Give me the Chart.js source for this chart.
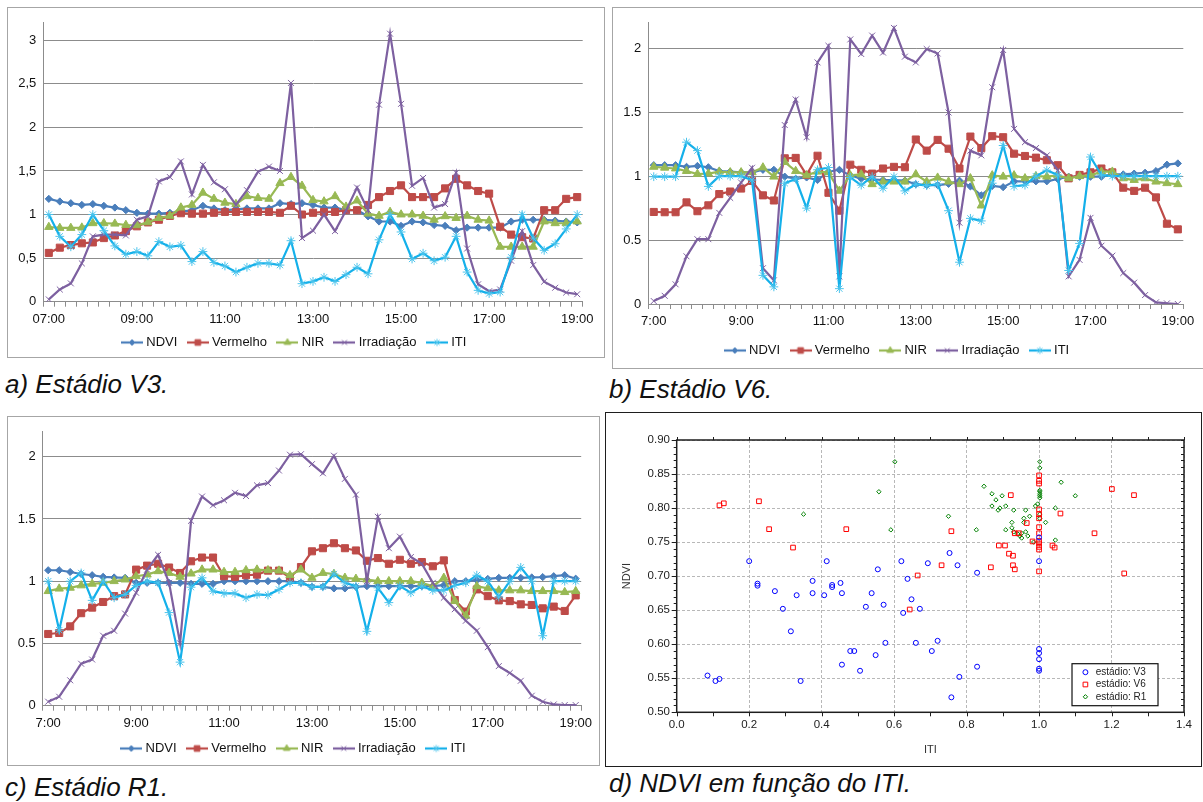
<!DOCTYPE html>
<html lang="pt">
<head>
<meta charset="utf-8">
<title>NDVI, ITI e irradiação ao longo do dia</title>
<script src="https://cdn.jsdelivr.net/npm/chart.js@4.4.1/dist/chart.umd.min.js"></script>
<style>
  html, body { margin:0; padding:0; background:#fff; width:1203px; height:802px; overflow:hidden; }
  .frame { position:absolute; box-sizing:border-box; border:1px solid #a6a6a6; }
  .frame.dark { border:1.5px solid #1e1e1e; }
  canvas { position:absolute; }
  .caption { position:absolute; font: italic 26px 'Liberation Sans', Arial, sans-serif; line-height:26px; color:#111; white-space:nowrap; }
</style>
</head>
<body>
<div class="frame" style="left:7px;top:7px;width:598px;height:351px"></div>
<div class="frame" style="left:612px;top:7px;width:600px;height:362px"></div>
<div class="frame" style="left:7px;top:416px;width:593px;height:350px"></div>
<div class="frame dark" style="left:605px;top:412px;width:597px;height:355px"></div>

<canvas id="chartV3" width="597" height="351" style="left:8px;top:8px"></canvas>
<canvas id="chartV6" width="594" height="359" style="left:613px;top:8px"></canvas>
<canvas id="chartR1" width="596" height="348" style="left:8px;top:417px"></canvas>
<canvas id="chartScatter" width="590" height="348" style="left:608px;top:415px"></canvas>

<div class="caption" style="left:5px;top:371px">a) Estádio V3.</div>
<div class="caption" style="left:609px;top:376px">b) Estádio V6.</div>
<div class="caption" style="left:5px;top:774px">c) Estádio R1.</div>
<div class="caption" style="left:609px;top:770px">d) NDVI em função do ITI.</div>

<script>
// ---- categories and tick labels ----
const times = ['07:00','07:15','07:30','07:45','08:00','08:15','08:30','08:45','09:00','09:15','09:30','09:45',
  '10:00','10:15','10:30','10:45','11:00','11:15','11:30','11:45','12:00','12:15','12:30','12:45',
  '13:00','13:15','13:30','13:45','14:00','14:15','14:30','14:45','15:00','15:15','15:30','15:45',
  '16:00','16:15','16:30','16:45','17:00','17:15','17:30','17:45','18:00','18:15','18:30','18:45','19:00'];
const tickLabelsV3 = ['07:00','09:00','11:00','13:00','15:00','17:00','19:00'];
const tickLabelsV6R1 = ['7:00','9:00','11:00','13:00','15:00','17:00','19:00'];
const seriesNames = ['NDVI','Vermelho','NIR','Irradiação','ITI'];

// ---- estádio V3 ----
const ndviV3 = [1.18,1.15,1.13,1.11,1.12,1.10,1.08,1.05,1.02,1.01,1.01,1.02,1.03,1.05,1.10,1.07,1.05,1.06,1.07,1.07,1.07,1.13,1.12,
  1.13,1.11,1.08,1.08,1.05,1.05,0.98,0.92,0.92,0.87,0.92,0.91,0.88,0.87,0.82,0.85,0.85,0.85,0.85,0.92,0.94,0.94,0.94,0.93,0.92,0.91];
const vermV3 = [0.56,0.62,0.65,0.67,0.68,0.73,0.76,0.81,0.865,0.91,0.94,0.985,1.015,1.01,1.01,1.02,1.03,1.03,1.03,1.03,1.03,1.02,1.10,
  1.00,1.02,1.03,1.03,1.05,1.05,1.11,1.20,1.27,1.335,1.20,1.20,1.20,1.30,1.41,1.335,1.27,1.24,0.86,0.77,0.74,0.725,1.05,1.05,1.18,1.20];
const nirV3 = [0.857,0.846,0.846,0.85,0.90,0.90,0.895,0.88,0.876,0.91,0.96,0.985,1.08,1.11,1.25,1.18,1.135,1.12,1.21,1.19,1.18,1.36,1.43,
  1.33,1.165,1.15,1.21,1.09,1.16,1.01,0.985,1.03,1.0,1.0,0.985,0.94,0.98,0.96,0.985,0.94,0.93,0.63,0.63,0.63,0.63,0.92,0.90,0.90,0.92];
const irrV3 = [0.026,0.14,0.21,0.44,0.75,0.77,0.77,0.76,0.94,0.98,1.38,1.43,1.61,1.23,1.57,1.37,1.29,1.11,1.28,1.49,1.55,1.50,2.51,
  0.73,0.815,1.0,0.81,1.045,1.31,1.05,2.26,3.075,2.27,1.33,1.42,1.08,1.12,1.48,0.61,0.20,0.12,0.14,0.47,0.81,0.42,0.23,0.16,0.105,0.086];
const itiV3 = [1.0,0.75,0.63,0.77,1.0,0.815,0.64,0.545,0.575,0.526,0.69,0.63,0.647,0.46,0.575,0.45,0.41,0.34,0.395,0.44,0.44,0.42,0.70,
  0.207,0.233,0.28,0.233,0.31,0.395,0.32,0.71,1.0,0.80,0.49,0.556,0.47,0.51,0.75,0.34,0.13,0.094,0.11,0.51,1.0,0.73,0.59,0.665,0.835,1.0];

// ---- estádio V6 ----
const ndviV6 = [1.086,1.086,1.086,1.073,1.08,1.07,1.04,1.035,1.03,1.03,1.05,1.05,0.996,0.98,0.99,0.97,1.035,1.05,1.006,0.98,0.975,0.97,0.97,0.965,
  0.937,0.93,0.93,0.94,0.965,0.92,0.85,0.924,0.914,0.96,0.96,0.96,0.96,0.978,0.996,0.996,0.996,0.996,1.014,1.014,1.02,1.027,1.04,1.09,1.10];
const vermV6 = [0.72,0.718,0.718,0.795,0.726,0.772,0.86,0.88,0.903,0.963,0.85,0.81,1.14,1.143,1.01,1.16,0.87,0.73,1.09,1.05,1.02,1.06,1.073,1.07,
  1.287,1.20,1.284,1.215,1.06,1.31,1.22,1.313,1.305,1.176,1.158,1.145,1.125,1.086,0.983,1.01,1.03,1.06,1.03,0.91,0.885,0.91,0.834,0.628,0.584];
const nirV6 = [1.073,1.066,1.06,1.04,1.017,1.02,1.035,1.03,1.03,1.03,1.068,0.996,1.11,1.04,1.006,1.035,1.03,0.885,1.006,1.014,0.937,0.957,0.957,0.957,
  1.014,0.957,0.988,0.957,0.937,0.983,0.77,1.006,0.996,1.006,0.983,1.0,0.996,1.006,0.983,1.0,1.006,1.035,1.035,0.983,0.97,0.983,0.957,0.945,0.937];
const irrV6 = [0.023,0.064,0.154,0.373,0.507,0.507,0.713,0.83,0.95,1.066,0.28,0.185,1.40,1.60,1.305,1.89,2.02,0.216,2.07,1.956,2.10,1.967,2.16,1.935,
  1.89,1.995,1.96,1.498,0.636,1.20,1.163,1.696,1.987,1.37,1.266,1.22,1.163,1.047,0.216,0.345,0.674,0.456,0.378,0.242,0.167,0.07,0.013,0.005,0.0];
const itiV6 = [0.996,0.996,0.996,1.266,1.20,0.92,1.0,1.0,1.0,0.97,0.224,0.134,0.945,0.978,0.75,1.05,1.068,0.12,0.99,0.93,0.996,0.906,0.996,0.885,
  0.937,0.926,0.937,0.73,0.327,0.67,0.65,0.945,1.24,0.92,0.93,1.0,1.047,1.009,0.262,0.474,1.15,1.009,1.0,1.0,1.0,1.0,1.0,1.0,1.0];

// ---- estádio R1 ----
const ndviR1 = [1.088,1.088,1.074,1.058,1.048,1.035,1.03,1.027,0.987,0.987,0.987,0.987,0.987,0.979,0.979,0.979,1.0,1.0,1.0,1.0,1.0,1.0,1.0,
  0.987,0.955,0.955,0.942,0.942,0.955,0.96,0.96,0.96,0.96,0.96,0.96,0.96,0.968,1.0,1.0,1.008,1.018,1.027,1.027,1.027,1.03,1.033,1.04,1.048,1.02];
const vermR1 = [0.576,0.584,0.637,0.743,0.788,0.833,0.88,0.894,1.093,1.125,1.14,1.11,1.066,1.16,1.19,1.19,1.04,1.035,1.048,1.053,1.085,1.085,1.03,
  1.114,1.24,1.265,1.305,1.265,1.247,1.164,1.186,1.14,1.172,1.14,1.154,1.12,1.167,0.849,0.756,0.934,0.88,0.846,0.84,0.814,0.809,0.782,0.796,0.761,0.886];
const nirR1 = [0.92,0.94,0.947,0.966,0.979,0.987,1.0,1.013,1.04,1.053,1.08,1.066,1.035,1.061,1.093,1.093,1.074,1.074,1.088,1.093,1.088,1.085,1.048,
  1.093,1.027,1.066,1.058,1.027,1.019,1.013,1.0,1.0,1.0,1.0,0.987,0.96,1.027,0.841,0.722,0.96,0.942,0.926,0.926,0.926,0.92,0.92,0.92,0.912,0.92];
const irrR1 = [0.032,0.072,0.204,0.337,0.371,0.562,0.602,0.74,0.907,1.093,1.212,0.987,0.501,1.485,1.68,1.61,1.65,1.71,1.684,1.77,1.788,1.889,2.016,
  2.02,1.94,1.867,2.008,1.822,1.695,1.0,1.517,1.265,1.358,1.194,1.14,0.987,0.867,0.775,0.682,0.602,0.47,0.318,0.263,0.2,0.08,0.032,0.01,0.005,0.005];
const itiR1 = [1.0,0.607,1.0,1.066,0.846,1.0,0.867,0.894,0.966,1.0,0.987,0.748,0.35,0.952,1.027,0.92,0.902,0.902,0.867,0.894,0.889,0.934,0.987,
  0.987,0.955,0.955,1.058,0.987,0.96,0.597,0.947,0.828,0.96,0.907,0.96,0.926,0.926,0.966,0.987,1.048,1.0,0.873,1.0,1.111,1.0,0.562,1.0,1.0,1.0];

// ---- NDVI x ITI, pares [ITI, NDVI] ----
const scatterV3 = [[0.085,0.554],[0.107,0.546],[0.118,0.549],[0.200,0.722],[0.223,0.689],[0.223,0.686],[0.271,0.678],[0.293,0.652],
  [0.315,0.619],[0.331,0.672],[0.342,0.546],[0.375,0.693],[0.375,0.675],[0.407,0.672],[0.414,0.722],[0.429,0.687],[0.429,0.684],
  [0.452,0.690],[0.456,0.675],[0.456,0.570],[0.479,0.590],[0.490,0.590],[0.506,0.561],[0.522,0.655],[0.538,0.675],[0.549,0.584],
  [0.555,0.710],[0.571,0.658],[0.576,0.602],[0.620,0.722],[0.625,0.646],[0.637,0.696],[0.648,0.666],[0.671,0.652],[0.660,0.602],
  [0.693,0.719],[0.720,0.605],[0.704,0.590],[0.753,0.734],[0.775,0.716],[0.758,0.522],[0.780,0.552],[0.829,0.705],[0.829,0.567],
  [1.0,0.757],[1.0,0.722],[1.0,0.593],[1.0,0.587],[1.0,0.578],[1.0,0.564],[1.0,0.561]];
const scatterV6 = [[0.118,0.804],[0.130,0.807],[0.227,0.810],[0.255,0.769],[0.321,0.742],[0.468,0.769],[0.643,0.651],[0.665,0.701],
  [0.731,0.716],[0.758,0.766],[0.867,0.713],[0.889,0.745],[0.906,0.745],[0.917,0.733],[0.928,0.730],[0.928,0.716],[0.933,0.710],
  [0.922,0.819],[0.933,0.763],[0.944,0.763],[0.966,0.778],[0.982,0.751],[1.0,0.848],[1.0,0.840],[1.0,0.836],[1.0,0.798],[1.0,0.791],
  [1.0,0.785],[1.0,0.772],[1.0,0.763],[1.0,0.752],[1.0,0.748],[1.0,0.743],[1.0,0.739],[1.0,0.707],[1.037,0.745],[1.043,0.742],
  [1.059,0.792],[1.153,0.763],[1.201,0.828],[1.235,0.704],[1.262,0.819]];
const scatterR1 = [[0.350,0.791],[0.558,0.824],[0.591,0.768],[0.602,0.868],[0.750,0.788],[0.827,0.768],[0.848,0.832],[0.870,0.821],
  [0.881,0.812],[0.898,0.818],[0.870,0.803],[0.887,0.797],[0.892,0.800],[0.908,0.803],[0.930,0.797],[0.963,0.797],[0.974,0.788],
  [0.958,0.785],[0.958,0.779],[0.925,0.779],[0.925,0.771],[0.908,0.768],[0.930,0.765],[0.941,0.762],[0.952,0.763],[0.947,0.759],
  [0.952,0.756],[0.963,0.765],[0.969,0.759],[0.985,0.750],[0.990,0.803],[0.996,0.806],[1.002,0.868],[1.002,0.859],[1.002,0.826],
  [1.002,0.824],[1.002,0.821],[1.002,0.818],[1.002,0.815],[1.002,0.791],[1.002,0.785],[1.018,0.779],[1.045,0.800],[1.045,0.753],
  [1.061,0.838],[1.100,0.818]];
const scatterLabels = ['estádio: V3','estádio: V6','estádio: R1'];

// ---- appearance ----
const FONT = "'Liberation Sans', Arial, sans-serif";
Chart.defaults.font.family = FONT;
Chart.defaults.color = '#111';

const seriesStyle = [
  {color:'#4a7ebb', marker:'rectRot',  radius:3.6, fill:true},
  {color:'#be4b48', marker:'rect',     radius:5.0, fill:true},
  {color:'#98b954', marker:'triangle', radius:4.8, fill:true},
  {color:'#7d60a0', marker:'crossRot', radius:4.2, fill:false},
  {color:'#14b0ea', marker:'star',     radius:4.4, fill:false, pointColor:'#4cc4ec'}
];

function drawMarker(g, style, r, x, y) {
  if (Chart.helpers && Chart.helpers.drawPoint) {
    Chart.helpers.drawPoint(g, {pointStyle: style, radius: r, borderWidth: 1, rotation: 0}, x, y);
  } else {
    g.beginPath(); g.arc(x, y, r, 0, Math.PI * 2); g.fill(); g.stroke();
  }
}

// small "line + marker" image used as legend symbol
function swatch(s) {
  const c = document.createElement('canvas');
  c.width = 22; c.height = 12;
  const g = c.getContext('2d');
  g.strokeStyle = s.color; g.lineWidth = 2.2;
  g.beginPath(); g.moveTo(0, 6); g.lineTo(22, 6); g.stroke();
  g.fillStyle = s.fill ? s.color : 'rgba(0,0,0,0)';
  g.strokeStyle = s.pointColor || s.color; g.lineWidth = 1;
  drawMarker(g, s.marker, s.radius * 0.8, 11, 6);
  return c;
}

function lineDatasets(values) {
  return values.map((vals, k) => {
    const s = seriesStyle[k];
    return {
      label: seriesNames[k],
      data: vals,
      borderColor: s.color,
      backgroundColor: s.color,
      borderWidth: 2.2,
      tension: 0,
      pointStyle: s.marker,
      pointRadius: s.radius,
      pointHoverRadius: s.radius,
      pointBackgroundColor: s.fill ? s.color : 'rgba(0,0,0,0)',
      pointBorderColor: s.pointColor || s.color,
      pointBorderWidth: 1,
      order: values.length - 1 - k
    };
  });
}

function buildLineChart(id, values, tickLabels, yMax, decimalComma, geom) {
  const swatches = seriesStyle.map(swatch);
  return new Chart(document.getElementById(id), {
    type: 'line',
    data: { labels: times, datasets: lineDatasets(values) },
    options: {
      responsive: false,
      animation: false,
      devicePixelRatio: 1,
      events: [],
      layout: { padding: { left: 0, top: geom.top, right: geom.right, bottom: 0 } },
      plugins: {
        tooltip: { enabled: false },
        legend: {
          position: 'bottom',
          labels: {
            usePointStyle: true,
            pointStyleWidth: 15.5,
            padding: 12.7,
            color: '#111',
            font: { size: 13 },
            generateLabels: chart => chart.data.datasets.map((ds, i) => ({
              text: ds.label, pointStyle: swatches[i], fillStyle: ds.borderColor,
              strokeStyle: ds.borderColor, lineWidth: 0, hidden: false, datasetIndex: i, fontColor: '#111'
            }))
          }
        }
      },
      scales: {
        x: {
          type: 'category',
          offset: true,
          grid: { display: true, drawOnChartArea: false, drawTicks: true, tickLength: 5, color: '#8c8c8c', offset: true },
          border: { display: true, color: '#8c8c8c', width: 1 },
          ticks: {
            autoSkip: false, maxRotation: 0, minRotation: 0, padding: 5, color: '#111', font: { size: 13 },
            callback: (v, i) => (i % 8 === 0 ? tickLabels[i / 8] : '')
          },
          afterFit: s => { s.height = geom.xh; }
        },
        y: {
          min: 0, max: yMax,
          ticks: {
            stepSize: 0.5, includeBounds: false, padding: 7, color: '#111', font: { size: 13 },
            callback: v => (decimalComma ? String(v).replace('.', ',') : String(v))
          },
          grid: { color: '#8c8c8c', drawTicks: false },
          border: { display: true, color: '#8c8c8c' },
          afterFit: s => { s.width = geom.yw; }
        }
      }
    }
  });
}

buildLineChart('chartV3', [ndviV3, vermV3, nirV3, irrV3, itiV3], tickLabelsV3, 3.2, true,
  { top: 11, right: 22.3, yw: 35.3, xh: 21.6 });
buildLineChart('chartV6', [ndviV6, vermV6, nirV6, irrV6, itiV6], tickLabelsV6R1, 2.2, false,
  { top: 11.1, right: 23.7, yw: 35.3, xh: 27.3 });
buildLineChart('chartR1', [ndviR1, vermR1, nirR1, irrR1, itiR1], tickLabelsV6R1, 2.2, false,
  { top: 12.2, right: 22.8, yw: 34.7, xh: 23.6 });

// ---- scatter: frame, small ticks and boxed legend ----
const scatterDecor = {
  id: 'scatterDecor',
  beforeDatasetsDraw(chart) {
    const { ctx, chartArea: a, scales: { x, y } } = chart;
    ctx.save();
    ctx.strokeStyle = '#1e1e1e';
    ctx.lineWidth = 1;
    ctx.beginPath();
    for (let k = 0; k <= 14; k++) {
      const px = Math.round(x.getPixelForValue(k / 10)) + 0.5;
      ctx.moveTo(px, a.bottom); ctx.lineTo(px, a.bottom + 4);
      ctx.moveTo(px, a.top); ctx.lineTo(px, a.top - 3);
    }
    for (let k = 0; k <= 40; k++) {
      const py = Math.round(y.getPixelForValue(0.5 + k / 100)) + 0.5;
      const len = k % 5 === 0 ? 5 : 3;
      ctx.moveTo(a.left - len, py); ctx.lineTo(a.left, py);
      ctx.moveTo(a.right, py); ctx.lineTo(a.right - 3, py);
    }
    ctx.stroke();
    ctx.lineWidth = 1.5;
    ctx.strokeRect(a.left, a.top, a.right - a.left, a.bottom - a.top);
    ctx.restore();
  },
  afterDraw(chart) {
    const { ctx, chartArea: a } = chart;
    const w = 86, h = 42;
    const left = a.right - 26 - w, top = a.bottom - 6.6 - h;
    ctx.save();
    ctx.fillStyle = '#fff';
    ctx.fillRect(left, top, w, h);
    ctx.strokeStyle = '#111';
    ctx.lineWidth = 1.2;
    ctx.strokeRect(left, top, w, h);
    ctx.font = '10px ' + FONT;
    ctx.textBaseline = 'middle';
    chart.data.datasets.forEach((ds, i) => {
      const cy = top + 8.5 + i * 12.3;
      ctx.fillStyle = 'rgba(0,0,0,0)';
      ctx.strokeStyle = ds.pointBorderColor;
      ctx.lineWidth = 1;
      drawMarker(ctx, ds.pointStyle, ds.pointRadius, left + 13.4, cy);
      ctx.fillStyle = '#222';
      ctx.fillText(ds.label, left + 23.7, cy);
    });
    ctx.restore();
  }
};

function scatterSet(label, pairs, style, radius, color) {
  return {
    label: label,
    data: pairs.map(p => ({ x: p[0], y: p[1] })),
    pointStyle: style,
    pointRadius: radius,
    pointHoverRadius: radius,
    pointBorderColor: color,
    pointBackgroundColor: 'rgba(0,0,0,0)',
    pointBorderWidth: 1,
    showLine: false
  };
}

new Chart(document.getElementById('chartScatter'), {
  type: 'scatter',
  data: {
    datasets: [
      scatterSet(scatterLabels[0], scatterV3, 'circle', 2.5, '#0000ff'),
      scatterSet(scatterLabels[1], scatterV6, 'rect', 3.3, '#ff0000'),
      scatterSet(scatterLabels[2], scatterR1, 'rectRot', 2.2, '#008000')
    ]
  },
  options: {
    responsive: false,
    animation: false,
    devicePixelRatio: 1,
    events: [],
    layout: { padding: { left: 0, top: 25, right: 8.7, bottom: 0 } },
    plugins: { legend: { display: false }, tooltip: { enabled: false } },
    scales: {
      x: {
        type: 'linear', min: 0, max: 1.4,
        ticks: { stepSize: 0.2, padding: 6, color: '#222', font: { size: 11.5 }, callback: v => v.toFixed(1) },
        grid: { color: '#b8b8b8', drawTicks: false },
        border: { display: false, dash: [3, 2] },
        title: { display: true, text: 'ITI', color: '#333', font: { size: 11 }, padding: { top: 0, bottom: 6.4 } },
        afterFit: s => { s.height = 50.7; }
      },
      y: {
        type: 'linear', min: 0.5, max: 0.9,
        ticks: { stepSize: 0.05, padding: 6.7, color: '#222', font: { size: 11.5 }, callback: v => v.toFixed(2) },
        grid: { color: '#b8b8b8', drawTicks: false },
        border: { display: false, dash: [3, 2] },
        title: { display: true, text: 'NDVI', color: '#333', font: { size: 11 }, padding: { top: 12.4, bottom: 0 } },
        afterFit: s => { s.width = 68.7; }
      }
    }
  },
  plugins: [scatterDecor]
});
</script>
</body>
</html>
